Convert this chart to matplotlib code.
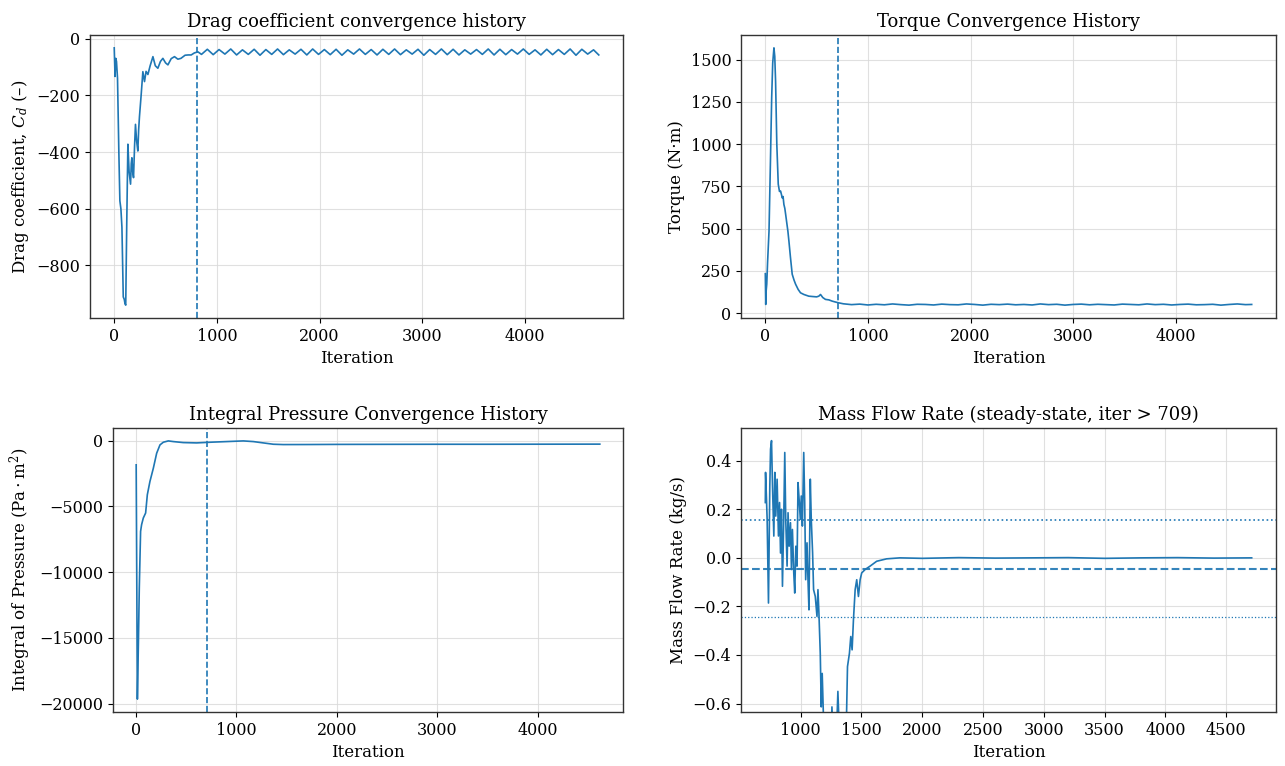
import matplotlib
matplotlib.use("Agg")
import matplotlib.pyplot as plt

plt.rcParams['font.family'] = ['DejaVu Serif']
plt.rcParams['mathtext.fontset'] = 'dejavuserif'

# ---------------- data ----------------
drag_iter = [0, 8, 15, 22, 32, 45, 55, 65, 75, 88,
             98, 105, 112, 122, 133, 145, 159, 166, 172, 180,
             188, 198, 207, 218, 230, 238, 246, 262, 279, 295,
             310, 328, 350, 377, 400, 425, 450, 474, 500, 523,
             555, 587, 620, 650, 690, 720, 750, 780, 815,
             850, 907, 964, 1021, 1078, 1135, 1192, 1249, 1306, 1363,
             1420, 1477, 1534, 1591, 1648, 1705, 1762, 1819, 1876, 1933,
             1990, 2047, 2104, 2161, 2218, 2275, 2332, 2389, 2446, 2503,
             2560, 2617, 2674, 2731, 2788, 2845, 2902, 2959, 3016, 3073,
             3130, 3187, 3244, 3301, 3358, 3415, 3472, 3529, 3586, 3643,
             3700, 3757, 3814, 3871, 3928, 3985, 4042, 4099, 4156, 4213,
             4270, 4327, 4384, 4441, 4498, 4555, 4612, 4669, 4720]
drag_cd = [-32, -133, -69, -80, -139, -400, -572, -600, -665, -911,
           -920, -935, -940, -650, -372, -470, -513, -440, -420, -470,
           -490, -380, -302, -360, -396, -320, -274, -200, -116, -151,
           -115, -126, -95, -63, -95, -104, -80, -69, -85, -92,
           -70, -63, -72, -69, -58, -57, -57, -50, -46,
           -55, -37, -56, -38, -54, -36, -57, -39, -55, -37,
           -58, -38, -55, -36, -56, -39, -54, -37, -57, -36,
           -55, -38, -56, -37, -58, -39, -54, -36, -55, -38,
           -57, -37, -55, -36, -56, -39, -54, -37, -58, -38,
           -55, -36, -56, -37, -57, -39, -54, -38, -55, -36,
           -57, -37, -56, -38, -54, -36, -55, -39, -57, -37,
           -56, -38, -55, -36, -58, -37, -54, -39, -57]
drag_marker_iter = 805

torque_iter = [0, 4, 8, 14, 22, 36, 50, 62, 72, 84,
               92, 100, 112, 126, 138, 149, 158, 165, 173, 181,
               190, 198, 210, 220, 230, 245, 262, 280, 295, 320,
               343, 376, 400, 424, 460, 500, 521, 538, 560, 586,
               620, 650, 680, 712,
               760, 840, 920, 1000, 1080, 1160, 1240, 1320, 1400, 1480,
               1560, 1640, 1720, 1800, 1880, 1960, 2040, 2120, 2200, 2280,
               2360, 2440, 2520, 2600, 2680, 2760, 2840, 2920, 3000, 3080,
               3160, 3240, 3320, 3400, 3480, 3560, 3640, 3720, 3800, 3880,
               3960, 4040, 4120, 4200, 4280, 4360, 4440, 4520, 4600, 4680,
               4740]
torque_val = [233, 51, 130, 171, 300, 485, 900, 1274, 1480, 1570,
              1520, 1373, 1000, 763, 720, 722, 700, 682, 690, 643,
              620, 585, 530, 485, 426, 330, 230, 195, 171, 140,
              120, 110, 105, 100, 98, 96, 100, 110, 92, 81,
              78, 71, 66, 61,
              55, 50, 53, 48, 52, 49, 54, 50, 47, 52,
              51, 48, 53, 50, 49, 54, 51, 47, 52, 50,
              53, 49, 51, 48, 54, 50, 52, 47, 51, 53,
              49, 52, 50, 48, 53, 51, 49, 54, 50, 52,
              48, 51, 53, 49, 50, 52, 47, 51, 54, 50,
              51]
steady_start = 709

press_iter = [2, 14, 25, 33, 46, 56, 73, 96, 113, 139,
              173, 206, 239, 272, 322, 372, 471, 604, 737, 903,
              1069, 1169, 1268, 1368, 1467, 1700, 2000, 2500, 3000, 3500,
              4000, 4620]
press_val = [-1843, -19646, -15000, -11187, -6894, -6389, -5884, -5505, -4116, -3106,
             -2096, -960, -328, -126, -25, -76, -152, -177, -126, -76,
             -25, -76, -177, -278, -303, -300, -290, -285, -280, -280,
             -275, -270]

mass_iter = [709, 711, 718, 724, 735, 746, 752, 760, 768, 779,
             787, 795, 806, 817, 826, 834, 842, 850, 861, 869,
             877, 888, 896, 905, 916, 924, 932, 943, 951, 960,
             970, 978, 987, 997, 1005, 1014, 1025, 1033, 1041, 1052,
             1060, 1068, 1079, 1087, 1098, 1106, 1120, 1134, 1142, 1150,
             1161, 1169, 1177, 1188, 1200, 1215, 1230, 1245, 1257, 1270,
             1285, 1306, 1320, 1340, 1360, 1375, 1385, 1401, 1412, 1423,
             1434, 1448, 1461, 1475, 1489, 1502, 1530, 1571, 1625, 1707,
             1816, 2000, 2300, 2600, 2900, 3200, 3500, 3800, 4100, 4400,
             4710]
mass_val = [0.228, 0.352, 0.25, 0.159, -0.186, 0.297, 0.448, 0.483, 0.297, 0.09,
            0.352, 0.172, 0.324, 0.09, 0.228, 0.02, 0.2, -0.117, 0.172, 0.434,
            0.159, -0.034, 0.186, 0.048, 0.145, -0.048, 0.117, -0.062, -0.145, 0.048,
            -0.034, 0.31, 0.241, 0.159, 0.255, 0.131, 0.434, 0.228, -0.09, 0.062,
            -0.09, -0.214, 0.324, 0.159, 0.02, -0.131, -0.159, -0.241, -0.131, -0.228,
            -0.393, -0.614, -0.476, -0.669, -0.78, -0.9, -0.85, -0.95, -0.614, -0.8,
            -0.88, -0.55, -0.75, -0.9, -0.82, -0.7, -0.448, -0.393, -0.324, -0.379,
            -0.255, -0.131, -0.09, -0.159, -0.09, -0.062, -0.048, -0.034, -0.014, -0.004,
            0.0, -0.002, 0.001, -0.001, 0.0, 0.001, -0.002, 0.0, 0.001, -0.001,
            0.0]
mass_mean = -0.044
mass_upper = 0.154
mass_lower = -0.242
mass_ylim = (-0.635, 0.535)

# ---------------- figure ----------------
C0 = '#1f77b4'
fig = plt.figure(figsize=(12.85, 7.66), dpi=100)
W, H = 1285, 766

def box(l, t, r, b):
    return [l / W, 1 - b / H, (r - l) / W, (b - t) / H]

ax1 = fig.add_axes(box(90, 35, 623, 318))
ax2 = fig.add_axes(box(741, 35, 1276, 318))
ax3 = fig.add_axes(box(113, 428, 623, 712))
ax4 = fig.add_axes(box(741, 428, 1276, 712))

TFS, LFS, KFS = 13, 12, 11.5

for ax in (ax1, ax2, ax3, ax4):
    ax.grid(True, color='#d9d9d9', linewidth=0.8, alpha=0.8)
    ax.set_axisbelow(True)
    ax.tick_params(labelsize=KFS)
    for s in ax.spines.values():
        s.set_color('#333333')
        s.set_linewidth(1.0)

ax1.plot(drag_iter, drag_cd, color=C0, lw=1.2)
ax1.axvline(drag_marker_iter, color=C0, ls='--', lw=1.2)
ax1.set_title('Drag coefficient convergence history', fontsize=TFS)
ax1.set_xlabel('Iteration', fontsize=LFS)
ax1.set_ylabel('Drag coefficient, $C_d$ (–)', fontsize=LFS)

ax2.plot(torque_iter, torque_val, color=C0, lw=1.2)
ax2.axvline(steady_start, color=C0, ls='--', lw=1.2)
ax2.set_title('Torque Convergence History', fontsize=TFS)
ax2.set_xlabel('Iteration', fontsize=LFS)
ax2.set_ylabel('Torque (N·m)', fontsize=LFS)

ax3.plot(press_iter, press_val, color=C0, lw=1.2)
ax3.axvline(steady_start, color=C0, ls='--', lw=1.2)
ax3.set_title('Integral Pressure Convergence History', fontsize=TFS)
ax3.set_xlabel('Iteration', fontsize=LFS)
ax3.set_ylabel(r'Integral of Pressure ($\mathrm{Pa \cdot m^2}$)', fontsize=LFS)

ax4.plot(mass_iter, mass_val, color=C0, lw=1.2)
ax4.axhline(mass_mean, color=C0, ls='--', lw=1.5, alpha=0.9)
ax4.axhline(mass_upper, color=C0, ls=':', lw=1.2)
ax4.axhline(mass_lower, color=C0, ls=':', lw=0.9)
ax4.set_ylim(*mass_ylim)
ax4.set_title(f'Mass Flow Rate (steady-state, iter > {steady_start})', fontsize=TFS)
ax4.set_xlabel('Iteration', fontsize=LFS)
ax4.set_ylabel('Mass Flow Rate (kg/s)', fontsize=LFS)

fig.savefig('out.png', dpi=100)
